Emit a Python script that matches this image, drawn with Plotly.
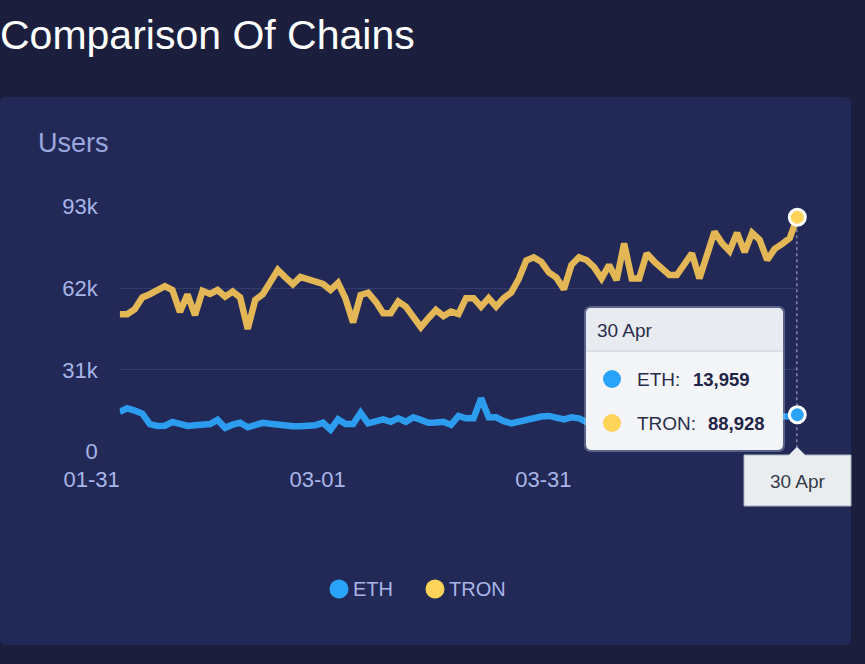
import plotly.graph_objects as go
import pandas as pd

# ---------------- data ----------------
dates = pd.date_range("2024-01-31", "2024-04-30", freq="D")

eth = [15100, 16400, 15500, 14400, 10400, 9700, 9800, 11200, 10500, 9700,
       10000, 10200, 10400, 12000, 9000, 10200, 10900, 9200, 10200, 10900,
       10500, 10000, 9700, 9600, 9600, 9700, 10000, 10900, 8300, 12200,
       10400, 10400, 14700, 10700, 11200, 12200, 11300, 12600, 11300, 13000,
       12000, 10900, 11000, 11300, 10100, 13500, 12600, 12600, 20200, 13000,
       13000, 11500, 10700, 11300, 12000, 13000, 13300, 13500, 12800, 12200,
       13000, 12600, 11200, 12000, 12500, 13100, 12400, 13600, 12900, 12200,
       13400, 14000, 13200, 12700, 13800, 14300, 13500, 12900, 14100, 14600,
       13800, 13300, 14400, 13900, 13100, 13700, 14200, 13500, 13200, 13300,
       13959]

tron = [52100, 52100, 54000, 58500, 59700, 61000, 62800, 61300, 53000, 59600,
        51800, 61000, 59800, 61300, 58800, 60700, 58500, 46500, 57500, 59700,
        64500, 68900, 66100, 63500, 66300, 65400, 64800, 63600, 61300, 64000,
        58000, 49000, 59400, 60300, 56900, 52500, 52500, 56900, 55000, 50600,
        47200, 50600, 53700, 51400, 53100, 52200, 58200, 58200, 55000, 58200,
        55000, 58200, 60300, 65500, 72500, 73700, 72000, 68000, 66000, 61600,
        70800, 73700, 72700, 70000, 65700, 70800, 65100, 79000, 65700, 65700,
        75200, 72100, 69500, 67000, 67000, 71200, 75200, 65700, 74600, 83400,
        79100, 76100, 83000, 75700, 83000, 80300, 72700, 76900, 78800, 81000,
        88928]

series_names = ["ETH", "TRON"]
x_tick_vals = ["2024-01-31", "2024-03-01", "2024-03-31"]
x_tick_text = ["01-31", "03-01", "03-31"]
y_tick_vals = [0, 31000, 62000, 93000]
y_tick_text = ["0", "31k", "62k", "93k"]
hover_label = "30 Apr"

# ---------------- styles ----------------
W, H = 865, 664
FONT = "Liberation Sans, Arial, Helvetica, sans-serif"
PAGE_BG = "#1b1f3d"
CARD_BG = "#222956"
GRID = "#343c6c"
LABEL = "#a9b5e8"
ETH_LINE = "#2c9cef"
TRON_LINE = "#e3b755"
ETH_DOT = "#2aa3fb"
TRON_DOT = "#ffd25a"
TIP_TEXT = "#2a2e4c"


def px(x, y):
    return x / W, 1 - y / H


def rrect(x0, y0, x1, y1, r, top_only=False):
    def P(x, y):
        a, b = px(x, y)
        return f"{a:.5f},{b:.5f}"
    rb = 0 if top_only else r
    d = f"M {P(x0 + r, y0)} L {P(x1 - r, y0)} Q {P(x1, y0)} {P(x1, y0 + r)} "
    d += f"L {P(x1, y1 - rb)} Q {P(x1, y1)} {P(x1 - rb, y1)} "
    d += f"L {P(x0 + rb, y1)} Q {P(x0, y1)} {P(x0, y1 - rb)} "
    d += f"L {P(x0, y0 + r)} Q {P(x0, y0)} {P(x0 + r, y0)} Z"
    return d


fig = go.Figure()

fig.add_trace(go.Scatter(x=dates, y=eth, name=series_names[0], mode="lines",
                         line=dict(color=ETH_LINE, width=6.5), hoverinfo="skip"))
fig.add_trace(go.Scatter(x=dates, y=tron, name=series_names[1], mode="lines",
                         line=dict(color=TRON_LINE, width=6.5), hoverinfo="skip"))
# highlighted last points
fig.add_trace(go.Scatter(x=[dates[-1]], y=[eth[-1]], mode="markers", cliponaxis=False,
                         marker=dict(size=16, color=ETH_DOT, line=dict(color="white", width=3)),
                         hoverinfo="skip", showlegend=False))
fig.add_trace(go.Scatter(x=[dates[-1]], y=[tron[-1]], mode="markers", cliponaxis=False,
                         marker=dict(size=16, color=TRON_DOT, line=dict(color="white", width=3)),
                         hoverinfo="skip", showlegend=False))

shapes = []
# card
shapes.append(dict(type="path", xref="paper", yref="paper", layer="below",
                   path=rrect(0, 97, 851, 645, 6), fillcolor=CARD_BG, line=dict(width=0)))
# axis pointer dashed line
shapes.append(dict(type="line", xref="x", yref="y", layer="between",
                   x0=dates[-1], x1=dates[-1], y0=tron[-1], y1=1700,
                   line=dict(color="#d0d5ea", width=1.6, dash="3px,3px")))
# tooltip
shapes.append(dict(type="path", xref="paper", yref="paper", layer="above",
                   path=rrect(584, 306, 785, 452, 7), fillcolor="rgba(200,210,230,0.35)",
                   line=dict(width=0)))
shapes.append(dict(type="path", xref="paper", yref="paper", layer="above",
                   path=rrect(586, 308, 783, 450, 6), fillcolor="#f3f5f8",
                   line=dict(width=0)))
shapes.append(dict(type="path", xref="paper", yref="paper", layer="above",
                   path=rrect(586, 308, 783, 351, 6, top_only=True), fillcolor="#e8ebef",
                   line=dict(width=0)))
x0p, y0p = px(586, 351)
x1p, _ = px(783, 351)
shapes.append(dict(type="line", xref="paper", yref="paper", layer="above",
                   x0=x0p, x1=x1p, y0=y0p, y1=y0p, line=dict(color="#d6dae0", width=1.5)))
for cy, col in [(379, ETH_DOT), (423, TRON_DOT)]:
    a0, b0 = px(603, cy - 9)
    a1, b1 = px(621, cy + 9)
    shapes.append(dict(type="circle", xref="paper", yref="paper", layer="above",
                       x0=a0, x1=a1, y0=b1, y1=b0, fillcolor=col, line=dict(width=0)))
# axis pointer label
pts = [(744, 455), (789, 455), (797, 447), (805, 455), (851, 455), (851, 506), (744, 506)]
path = "M " + " L ".join("{:.5f},{:.5f}".format(*px(x, y)) for x, y in pts) + " Z"
shapes.append(dict(type="path", xref="paper", yref="paper", layer="above", path=path,
                   fillcolor="#e9edf0", line=dict(color="#aab3c2", width=1)))
# legend circles
for cx, col in [(339, ETH_DOT), (435, TRON_DOT)]:
    a0, b0 = px(cx - 9.5, 589 - 9.5)
    a1, b1 = px(cx + 9.5, 589 + 9.5)
    shapes.append(dict(type="circle", xref="paper", yref="paper",
                       x0=a0, x1=a1, y0=b1, y1=b0, fillcolor=col, line=dict(width=0)))

annotations = []


def ann(text, x, y, size, color, xanchor="left", bold=False):
    a, b = px(x, y)
    if bold:
        text = f"<b>{text}</b>"
    annotations.append(dict(text=text, x=a, y=b, xref="paper", yref="paper",
                            xanchor=xanchor, yanchor="middle", showarrow=False,
                            font=dict(family=FONT, size=size, color=color)))


ann("Comparison Of Chains", -2, 35, 41, "#ffffff")
ann("Users", 36, 143, 27, "#9aa6dc")
ann(hover_label, 595, 330, 19, TIP_TEXT)
ann(f"{series_names[0]}:", 635, 379, 19, TIP_TEXT)
ann(f"{eth[-1]:,}", 691, 379, 18.5, "#1f2446", bold=True)
ann(f"{series_names[1]}:", 635, 423, 19, TIP_TEXT)
ann(f"{tron[-1]:,}", 706, 423, 18.5, "#1f2446", bold=True)
ann(hover_label, 797.5, 481, 19, "#333a48", xanchor="center")
ann(series_names[0], 351, 589, 20, LABEL)
ann(series_names[1], 447, 589, 20, LABEL)

xd0, xd1 = 119.7 / W, 797.3 / W
yd0, yd1 = 1 - 451.5 / H, 1 - 206.5 / H

fig.update_layout(
    width=W, height=H, autosize=False,
    margin=dict(l=0, r=0, t=0, b=0, pad=0, autoexpand=False),
    paper_bgcolor=PAGE_BG, plot_bgcolor="rgba(0,0,0,0)",
    showlegend=False,
    shapes=shapes, annotations=annotations,
    font=dict(family=FONT, color=LABEL),
    xaxis=dict(domain=[xd0, xd1], range=[dates[0], dates[-1]], type="date",
               tickvals=x_tick_vals, ticktext=x_tick_text, showgrid=False,
               zeroline=False, showline=False, ticks="", automargin=False,
               tickfont=dict(size=22, color=LABEL, family=FONT),
               ticklabelshift=-28, ticklabelstandoff=12, fixedrange=True),
    yaxis=dict(domain=[yd0, yd1], range=[0, 93000], automargin=False,
               tickvals=y_tick_vals, ticktext=y_tick_text, showgrid=True,
               gridcolor=GRID, gridwidth=1, zeroline=False, showline=False, ticks="",
               tickfont=dict(size=22, color=LABEL, family=FONT),
               ticklabelstandoff=21, fixedrange=True),
)

fig.write_html("out.html", config={"displayModeBar": False},
               post_script="document.body.style.margin='0';"
                           "document.body.style.background='%s';" % PAGE_BG)
